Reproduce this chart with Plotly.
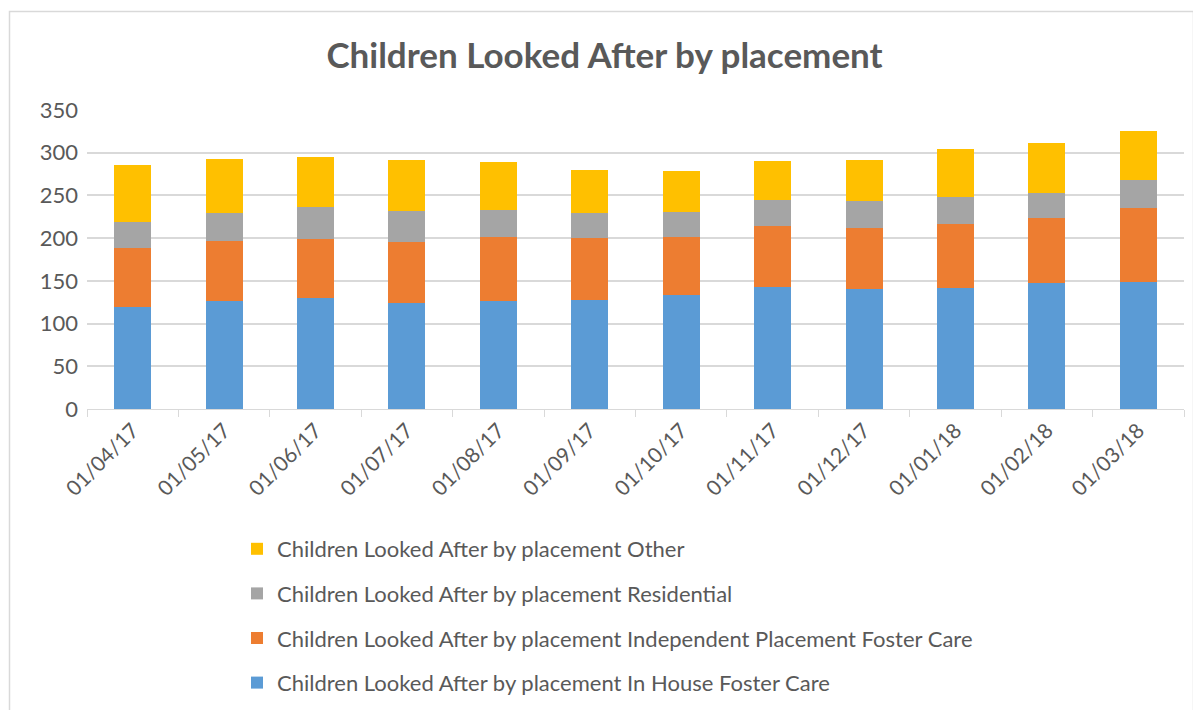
import plotly.graph_objects as go

dates = ["01/04/17", "01/05/17", "01/06/17", "01/07/17", "01/08/17", "01/09/17",
         "01/10/17", "01/11/17", "01/12/17", "01/01/18", "01/02/18", "01/03/18"]
in_house = [119, 126, 130, 124, 126, 128, 134, 143, 140, 142, 147, 149]
independent = [70, 71, 69, 71, 75, 72, 67, 71, 72, 75, 76, 86]
residential = [30, 33, 37, 37, 32, 30, 30, 31, 32, 31, 30, 33]
other = [67, 63, 59, 59, 56, 50, 48, 45, 47, 56, 58, 57]

series = [
    ("Children Looked After by placement In House Foster Care", in_house, "#5B9BD5"),
    ("Children Looked After by placement Independent Placement Foster Care", independent, "#ED7D31"),
    ("Children Looked After by placement Residential", residential, "#A5A5A5"),
    ("Children Looked After by placement Other", other, "#FFC000"),
]

FONT = "Lato"
TXT = "#595959"
GRID = "#D9D9D9"

fig = go.Figure()
n = len(series)
for i, (name, vals, col) in enumerate(series):
    fig.add_trace(go.Bar(x=dates, y=vals, name=name, marker_color=col,
                         marker_line_width=0, legendgroup=f"g{i}",
                         legendrank=1000 + (n - i)))

# page body has an 8px margin; work in screen pixels and convert
OFF = 8
W, H = 1201 - OFF, 710 - OFF
PL, PR, PT, PB = 87, 1184, 110, 409  # plot area in screen pixels
L, R, T, B = PL - OFF, (W + OFF) - PR, PT - OFF, (H + OFF) - PB
pw, ph = PR - PL, PB - PT

def px_x(x):
    return (x - PL) / pw

def px_y(y):
    return (PB - y) / ph

fig.update_layout(
    width=W, height=H,
    margin=dict(l=L, r=R, t=T, b=B, autoexpand=False),
    barmode="stack",
    bargap=0.595,
    plot_bgcolor="white",
    paper_bgcolor="white",
    font=dict(family=FONT, color=TXT),
    title=dict(text="<b>Children Looked After by placement</b>",
               x=0.5, xanchor="center", y=1 - (56 - OFF) / H, yanchor="middle",
               font=dict(family=FONT, size=35, color=TXT)),
    legend=dict(orientation="v", traceorder="grouped",
                xref="container", yref="container",
                x=(237 - OFF) / W, xanchor="left", y=1 - (528 - OFF) / H, yanchor="top",
                font=dict(family=FONT, size=22, color=TXT),
                tracegroupgap=13, itemwidth=30),
    xaxis=dict(type="category", showline=True, linecolor=GRID, linewidth=1,
               ticks="outside", tickson="boundaries", ticklen=7, tickcolor=GRID,
               tickangle=-45, tickfont=dict(family=FONT, size=21, color=TXT),
               showgrid=False),
    yaxis=dict(range=[0, 350], dtick=50, showgrid=True, gridcolor=GRID, gridwidth=1.5,
               zeroline=False, showline=False, ticks="",
               tickfont=dict(family=FONT, size=22, color=TXT), ticklabelstandoff=8),
    shapes=[dict(type="rect", xref="paper", yref="paper",
                 x0=px_x(9.5), x1=px_x(1193.5), y0=px_y(715), y1=px_y(11.5),
                 line=dict(color=GRID, width=1.5), fillcolor="rgba(0,0,0,0)",
                 layer="below")],
)

fig.write_html("out.html")
